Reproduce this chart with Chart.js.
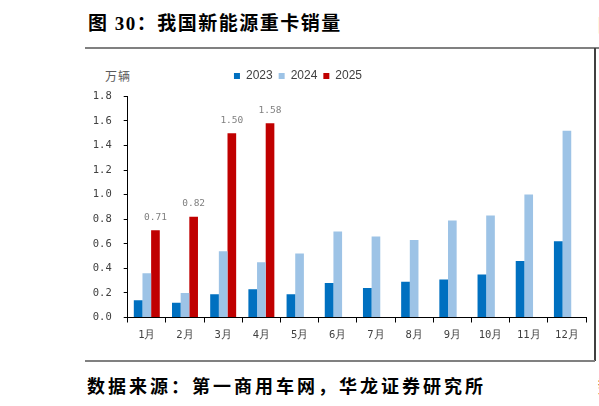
<!DOCTYPE html>
<html>
<head>
<meta charset="utf-8">
<script src="https://cdn.jsdelivr.net/npm/chart.js@4.4.1/dist/chart.umd.min.js"></script>
<style>
  html, body { margin: 0; padding: 0; background: #fff; }
  body { width: 599px; height: 406px; position: relative; overflow: hidden; }
  .title { position: absolute; left: 88px; top: 12px; font: bold 19px "Liberation Serif", "Noto Sans CJK SC", serif; letter-spacing: 1.5px; color: #000; line-height: 24px; white-space: nowrap; }
  .source { position: absolute; left: 87px; top: 373px; font: bold 18px "Noto Sans CJK SC", sans-serif; letter-spacing: 3px; color: #000; line-height: 24px; white-space: nowrap; }
  .edge { position: absolute; left: 598px; font: bold 18px "Noto Sans CJK SC", sans-serif; color: #000; line-height: 24px; }
  .rule-top { position: absolute; left: 85px; top: 47px; width: 514px; height: 2px; background: #808080; }
  .rule-bottom { position: absolute; left: 85px; top: 360px; width: 510px; height: 2px; background: #808080; }
  .rule-right { position: absolute; left: 594px; top: 48px; width: 1.5px; height: 313px; background: #404040; }
  .unit { position: absolute; left: 105px; top: 68px; font: 12px "Noto Sans CJK SC", sans-serif; letter-spacing: 1px; color: #595959; line-height: 16px; }
  #chartBox { position: absolute; left: 10px; top: 60px; width: 580px; height: 297px; }
</style>
</head>
<body>
<div class="title">图 30：我国新能源重卡销量</div>
<div class="edge" style="top:12px">图</div>
<div class="rule-top"></div>
<div class="rule-right"></div>
<div class="unit">万辆</div>
<div id="chartBox"><canvas id="chart"></canvas></div>
<div class="rule-bottom"></div>
<div class="source">数据来源：第一商用车网，华龙证券研究所</div>
<div class="edge" style="top:373px">数</div>
<script>
const months = ['1月', '2月', '3月', '4月', '5月', '6月', '7月', '8月', '9月', '10月', '11月', '12月'];
const sales2023 = [0.14, 0.12, 0.19, 0.23, 0.19, 0.28, 0.24, 0.29, 0.31, 0.35, 0.46, 0.62];
const sales2024 = [0.36, 0.20, 0.54, 0.45, 0.52, 0.70, 0.66, 0.63, 0.79, 0.83, 1.00, 1.52];
const sales2025 = [0.71, 0.82, 1.50, 1.58];
const yTicks = [0, 0.2, 0.4, 0.6, 0.8, 1.0, 1.2, 1.4, 1.6, 1.8];

const monoFont = { family: '"DejaVu Sans Mono", monospace', size: 10.5 };

// value labels above the 2025 bars
const barLabels = {
    id: 'barLabels',
    afterDatasetsDraw(chart) {
        const ctx = chart.ctx;
        const meta = chart.getDatasetMeta(2);
        ctx.save();
        ctx.font = '9.5px "DejaVu Sans Mono", monospace';
        ctx.fillStyle = '#7f7f7f';
        ctx.textAlign = 'center';
        ctx.textBaseline = 'bottom';
        meta.data.forEach((bar, i) => {
            ctx.fillText(sales2025[i].toFixed(2), bar.x, bar.y - 8);
        });
        ctx.restore();
    }
};

// a bit more room under the legend
const legendGap = {
    id: 'legendGap',
    afterInit(chart) {
        const legend = chart.legend;
        if (!legend) return;
        const fit = legend.fit;
        legend.fit = function() {
            fit.call(this);
            this.height += 4.3;
        };
    }
};

new Chart(document.getElementById('chart'), {
    type: 'bar',
    data: {
        labels: months,
        datasets: [
            { label: '2023', data: sales2023, backgroundColor: '#0070C0' },
            { label: '2024', data: sales2024, backgroundColor: '#9DC3E6' },
            { label: '2025', data: sales2025, backgroundColor: '#C00000' }
        ]
    },
    options: {
        responsive: true,
        maintainAspectRatio: false,
        animation: false,
        datasets: {
            bar: { categoryPercentage: 0.68, barPercentage: 1.0 }
        },
        layout: { padding: { left: 0, right: 4, top: 4, bottom: 0 } },
        plugins: {
            legend: {
                position: 'top',
                labels: {
                    boxWidth: 6,
                    boxHeight: 6,
                    padding: 6,
                    color: '#404040',
                    font: { family: '"Liberation Sans", Arial, sans-serif', size: 12 }
                }
            },
            tooltip: { enabled: false }
        },
        scales: {
            x: {
                grid: { display: true, drawOnChartArea: false, drawTicks: true, tickLength: 5, color: '#000', offset: true },
                border: { display: true, color: '#000', width: 1 },
                ticks: { color: '#404040', font: monoFont, padding: 6 },
                afterFit(scale) { scale.height = 39.5; }
            },
            y: {
                min: 0,
                max: 1.8,
                afterBuildTicks(scale) { scale.ticks = yTicks.map(v => ({ value: v })); },
                grid: { display: true, drawOnChartArea: false, drawTicks: true, tickLength: 4, color: '#000' },
                border: { display: true, color: '#000', width: 1 },
                ticks: { color: '#404040', font: monoFont, padding: 12, callback: v => v.toFixed(1) },
                afterFit(scale) { scale.width = 117.7; }
            }
        }
    },
    plugins: [barLabels, legendGap]
});
</script>
</body>
</html>
